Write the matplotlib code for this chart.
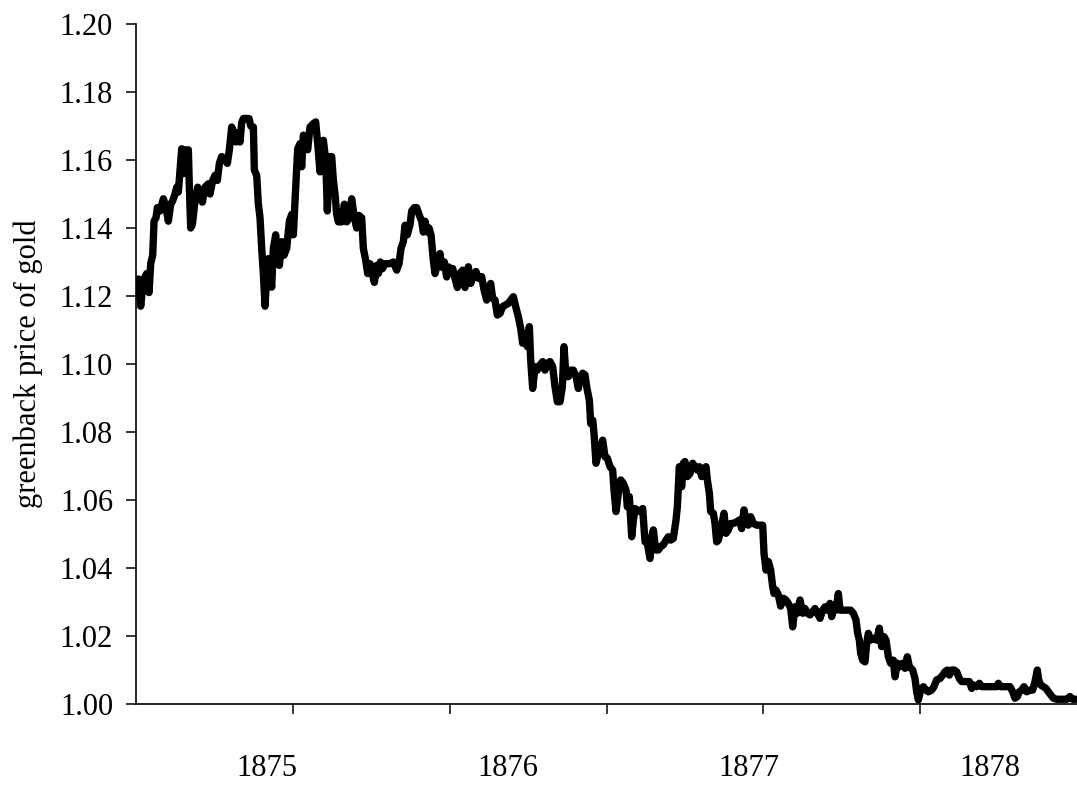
import numpy as np
import matplotlib
matplotlib.use("Agg")
import matplotlib.pyplot as plt
from matplotlib.ticker import FixedLocator, NullFormatter, FixedFormatter

# greenback price of gold (x = days since start of series)
days = [
    0, 3.5, 7, 11, 16, 19.5, 22, 25, 27, 30, 32, 36, 41, 45, 48.5, 52, 55, 58.5,
    61, 63.5, 66, 68.5, 71, 73.5, 76, 78.5, 80, 82, 84.5, 88.5, 92.5, 96, 99.5,
    103.5, 108.5, 111, 115, 118.5, 122, 125, 128.5, 133.5, 137, 140, 143.5, 147,
    150, 153.5, 156, 158.5, 161, 166, 169.5, 172, 176, 177.5, 181, 183.5, 186,
    188.5, 191, 193.5, 196, 198.5, 201, 203.5, 206, 209.5, 212, 215, 218.5, 222,
    226, 230, 233.5, 236, 238.5,
    242.5, 246, 248.5, 251, 253.5, 257.5, 261, 266, 269.5, 272.5, 276, 278.5,
    281, 284.5, 287, 290, 293.5, 296, 298.5, 301, 303.5, 308.5, 312.5, 316,
    319.5, 323.5, 327.5, 331, 334.5, 338.5, 341, 344.5, 347.5, 351, 354.5, 357.5,
    361, 363.5, 366.5, 369.5, 373.5, 381, 386, 391, 394.5, 397.5, 401, 403.5,
    407, 411, 413.5, 417.5, 421, 424.5, 428.5, 431, 433.5, 437, 439.5, 442.5,
    446, 448.5, 452.5, 456, 458.5, 462.5, 466, 469.5,
    471, 475, 478.5, 482, 486, 490, 493.5, 498.5, 502, 506, 510, 513.5, 518.5,
    522, 526, 529.5, 532, 535, 538.5, 542, 546, 550, 554.5, 558.5, 562, 566,
    569.5, 573.5, 577, 580, 583.5, 587, 590, 592, 595, 598.5, 602, 606, 610,
    613.5, 617, 621, 625, 628.5, 632, 636, 639.5, 642, 645, 648.5, 652, 656,
    660, 663.5, 666, 670, 673.5, 676, 680, 682, 685, 687, 690, 693.5, 697, 700,
    703.5, 707, 711, 715,
    717, 720, 723.5, 727, 731, 735, 737, 740, 743.5, 746, 748.5, 752, 756, 760,
    763.5, 767, 771, 773.5, 776, 779.5, 783.5, 787, 791, 795, 798.5, 802, 806,
    810, 812, 815, 818.5, 821, 823.5, 827, 831, 835, 838.5, 842, 845, 848.5,
    852, 855, 857, 860, 862, 866, 868.5, 871, 873.5, 877, 880, 882, 885, 888.5,
    892, 896, 901, 905, 908.5, 912, 915, 918.5, 922, 926, 931, 936, 940,
    942, 945, 948.5, 952, 955, 957, 960, 963.5, 967, 971, 975, 978.5, 982, 985,
    988.5, 992, 996, 1000, 1003.5, 1007, 1011, 1015, 1018.5, 1022, 1026, 1030,
    1033.5, 1037, 1041, 1043.5, 1047, 1050, 1053.5, 1056, 1060, 1066, 1072,
    1076, 1080, 1082.5, 1085, 1087, 1090, 1093.5, 1096, 1098.5, 1102, 1106,
    1111, 1115, 1118.5, 1122, 1125, 1128.5, 1132, 1136, 1138.5, 1142, 1146,
    1150, 1153.5, 1157, 1160,
    1165, 1168.5, 1171, 1173.5, 1177, 1181, 1185, 1188.5, 1193.5, 1197, 1201,
    1206, 1210, 1213.5, 1217, 1220, 1223.5, 1227, 1231, 1235, 1238.5, 1243.5,
    1250, 1253.5, 1256, 1261, 1265, 1268.5, 1276, 1283.5, 1291, 1293.5, 1297,
    1303.5, 1311, 1315, 1318.5, 1322, 1325, 1328.5, 1332, 1336, 1341, 1345,
    1348.5, 1352, 1354, 1357, 1361, 1365, 1368.5, 1372, 1376, 1381, 1388.5,
    1396, 1401, 1405, 1410,
]

price = [
    1.1210, 1.1250, 1.1170, 1.1246, 1.1266, 1.1210, 1.1295, 1.1320, 1.1420,
    1.1430, 1.1460, 1.1450, 1.1486, 1.1460, 1.1420, 1.1470, 1.1480, 1.1500,
    1.1520, 1.1506, 1.1570, 1.1633, 1.1560, 1.1630, 1.1570, 1.1630, 1.1520,
    1.1400, 1.1410, 1.1480, 1.1520, 1.1500, 1.1476, 1.1520, 1.1530, 1.1500,
    1.1540, 1.1555, 1.1540, 1.1590, 1.1610, 1.1600, 1.1590, 1.1630, 1.1697,
    1.1680, 1.1653, 1.1680, 1.1653, 1.1710, 1.1722, 1.1722, 1.1722, 1.1700,
    1.1697, 1.1570, 1.1555, 1.1470, 1.1430, 1.1340, 1.1266, 1.1170, 1.1256,
    1.1310, 1.1266, 1.1226, 1.1340, 1.1380, 1.1300, 1.1290, 1.1360, 1.1320,
    1.1340, 1.1420, 1.1440, 1.1380, 1.1480,
    1.1633, 1.1648, 1.1580, 1.1673, 1.1660, 1.1630, 1.1697, 1.1707, 1.1712,
    1.1648, 1.1565, 1.1619, 1.1658, 1.1600, 1.1450, 1.1610, 1.1610, 1.1540,
    1.1500, 1.1440, 1.1418, 1.1418, 1.1470, 1.1418, 1.1430, 1.1486, 1.1430,
    1.1400, 1.1437, 1.1430, 1.1340, 1.1305, 1.1266, 1.1295, 1.1266, 1.1240,
    1.1290, 1.1266, 1.1300, 1.1280, 1.1295, 1.1295, 1.1300, 1.1276, 1.1295,
    1.1340, 1.1360, 1.1408, 1.1380, 1.1410, 1.1450, 1.1460, 1.1460, 1.1440,
    1.1420, 1.1388, 1.1420, 1.1388, 1.1400, 1.1380, 1.1305, 1.1266, 1.1295,
    1.1325, 1.1285, 1.1300, 1.1256, 1.1285,
    1.1272, 1.1281, 1.1252, 1.1225, 1.1267, 1.1276, 1.1225, 1.1286, 1.1237,
    1.1262, 1.1272, 1.1252, 1.1257, 1.1218, 1.1188, 1.1227, 1.1237, 1.1193,
    1.1188, 1.1144, 1.1149, 1.1169, 1.1174, 1.1178, 1.1188, 1.1198, 1.1169,
    1.1139, 1.1105, 1.1061, 1.1090, 1.1051, 1.1110, 1.1012, 1.0928, 1.0992,
    1.0982, 1.0997, 1.1007, 1.0982, 1.1002, 1.1007, 1.0992, 1.0933, 1.0889,
    1.0889, 1.0933, 1.1051, 1.0963, 1.0963, 1.0982, 1.0982, 1.0963, 1.0928,
    1.0958, 1.0973, 1.0968, 1.0933, 1.0894, 1.0825, 1.0835, 1.0796, 1.0708,
    1.0737, 1.0757, 1.0776, 1.0727, 1.0723, 1.0698, 1.0688,
    1.0629, 1.0566, 1.0620, 1.0659, 1.0649, 1.0629, 1.0580, 1.0610, 1.0492,
    1.0541, 1.0575, 1.0570, 1.0566, 1.0575, 1.0477, 1.0473, 1.0428, 1.0492,
    1.0512, 1.0453, 1.0453, 1.0463, 1.0468, 1.0482, 1.0492, 1.0482, 1.0487,
    1.0541, 1.0580, 1.0698, 1.0639, 1.0708, 1.0713, 1.0669, 1.0678, 1.0708,
    1.0698, 1.0688, 1.0698, 1.0669, 1.0693, 1.0698, 1.0659, 1.0620, 1.0566,
    1.0561, 1.0531, 1.0477, 1.0482, 1.0512, 1.0541, 1.0561, 1.0502, 1.0512,
    1.0531, 1.0531, 1.0536, 1.0541, 1.0516, 1.0571, 1.0541, 1.0526, 1.0551,
    1.0531, 1.0526, 1.0526, 1.0526,
    1.0443, 1.0394, 1.0419, 1.0394, 1.0345, 1.0325, 1.0335, 1.0321, 1.0288,
    1.0311, 1.0306, 1.0296, 1.0281, 1.0227, 1.0286, 1.0267, 1.0306, 1.0267,
    1.0281, 1.0267, 1.0262, 1.0272, 1.0281, 1.0267, 1.0252, 1.0276, 1.0286,
    1.0276, 1.0296, 1.0257, 1.0286, 1.0276, 1.0325, 1.0276, 1.0276, 1.0276,
    1.0276, 1.0267, 1.0247, 1.0208, 1.0188, 1.0149, 1.0129, 1.0124, 1.0178,
    1.0208, 1.0188, 1.0193, 1.0188, 1.0223, 1.0169, 1.0198, 1.0188, 1.0139,
    1.0120, 1.0129, 1.0080, 1.0120, 1.0110, 1.0120, 1.0105, 1.0139, 1.0110,
    1.0100, 1.0075, 1.0036, 1.0012, 1.0041, 1.0051, 1.0041, 1.0036, 1.0041,
    1.0051, 1.0071, 1.0075, 1.0085, 1.0095, 1.0100, 1.0085, 1.0100, 1.0100,
    1.0095, 1.0075, 1.0066, 1.0066, 1.0066, 1.0046, 1.0056, 1.0051, 1.0061,
    1.0051, 1.0051, 1.0051, 1.0051, 1.0061, 1.0051, 1.0051, 1.0051, 1.0036,
    1.0017, 1.0022, 1.0036, 1.0041, 1.0051, 1.0036, 1.0041, 1.0041, 1.0066,
    1.0100, 1.0071, 1.0056, 1.0051, 1.0046, 1.0036, 1.0027, 1.0017, 1.0014,
    1.0014, 1.0014, 1.0022, 1.0014, 1.0014,
]

year_labels = ["1875", "1876", "1877", "1878"]
year_label_days = [196, 557.7, 919.4, 1281]
tick_step = 235.25
x_end = 1411.5

plt.rcParams["font.family"] = ["Liberation Serif", "DejaVu Serif"]

fig = plt.figure(figsize=(10.77, 7.89), dpi=100)
ax = fig.add_axes([0.1263, 0.1077, 0.8737, 0.8619])

ax.plot(days, price, color="black", lw=5.3,
        solid_joinstyle="round", solid_capstyle="round", clip_on=True)

ax.set_xlim(0, x_end)
ax.set_ylim(1.0, 1.2)

ax.set_yticks(np.arange(1.0, 1.2001, 0.02))
ax.set_yticklabels([f"{v:.2f}" for v in np.arange(1.0, 1.2001, 0.02)])
ax.set_ylabel("greenback price of gold", fontsize=22, labelpad=12)

# tick marks between categories, year labels sitting under the middle of each year
ax.xaxis.set_major_locator(FixedLocator([tick_step * k for k in range(1, 6)]))
ax.xaxis.set_major_formatter(NullFormatter())
ax.xaxis.set_minor_locator(FixedLocator(year_label_days))
ax.xaxis.set_minor_formatter(FixedFormatter(year_labels))

ax.tick_params(axis="x", which="major", direction="out", length=7.5, width=1.1)
ax.tick_params(axis="x", which="minor", length=0, pad=36, labelsize=22)
ax.tick_params(axis="y", direction="out", length=7.5, width=1.1, pad=9, labelsize=22)

for side in ("top", "right"):
    ax.spines[side].set_visible(False)
for side in ("left", "bottom"):
    ax.spines[side].set_linewidth(1.2)

fig.savefig("out.png", dpi=100)
